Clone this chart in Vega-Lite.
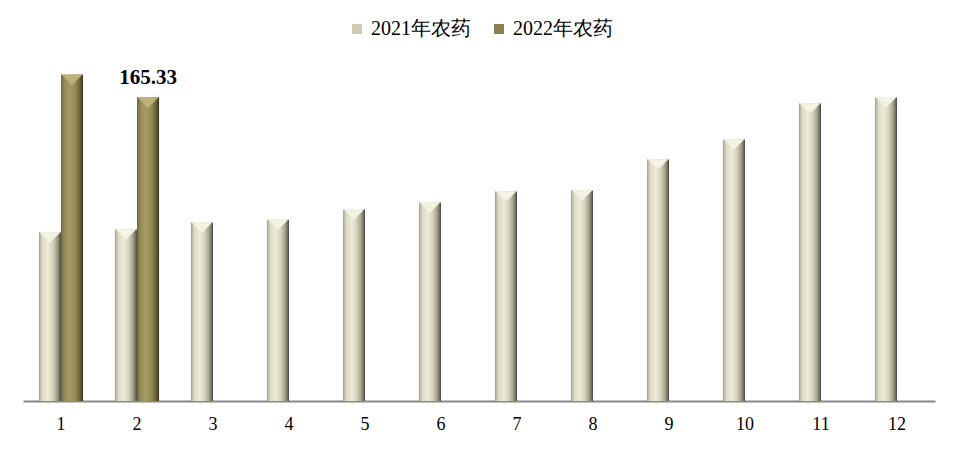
{
  "$schema": "https://vega.github.io/schema/vega-lite/v6.json",
  "width": 912,
  "height": 367,
  "autosize": "none",
  "padding": {"left": 23, "top": 34, "right": 23, "bottom": 49},
  "background": "white",
  "config": {
    "view": {"stroke": null},
    "font": "Liberation Serif"
  },
  "data": {
    "values": [
      {"month": 1, "series": "2021年农药", "value": 91.8},
      {"month": 2, "series": "2021年农药", "value": 93.5},
      {"month": 3, "series": "2021年农药", "value": 97.3},
      {"month": 4, "series": "2021年农药", "value": 98.8},
      {"month": 5, "series": "2021年农药", "value": 104.4},
      {"month": 6, "series": "2021年农药", "value": 108.2},
      {"month": 7, "series": "2021年农药", "value": 114.2},
      {"month": 8, "series": "2021年农药", "value": 114.7},
      {"month": 9, "series": "2021年农药", "value": 131.6},
      {"month": 10, "series": "2021年农药", "value": 142.5},
      {"month": 11, "series": "2021年农药", "value": 162.1},
      {"month": 12, "series": "2021年农药", "value": 165.4},
      {"month": 1, "series": "2022年农药", "value": 177.8},
      {"month": 2, "series": "2022年农药", "value": 165.33}
    ]
  },
  "encoding": {
    "x": {
      "field": "month",
      "type": "ordinal",
      "title": null,
      "scale": {"paddingInner": 0.42, "paddingOuter": 0.21},
      "axis": {
        "labelAngle": 0,
        "labelFont": "Liberation Serif",
        "labelFontSize": 18,
        "labelColor": "#000000",
        "labelPadding": 14,
        "ticks": false,
        "domainColor": "#888888",
        "domainWidth": 2
      }
    },
    "xOffset": {
      "field": "series",
      "type": "nominal",
      "scale": {"domain": ["2021年农药", "2022年农药"], "paddingInner": 0}
    },
    "y": {
      "field": "value",
      "type": "quantitative",
      "scale": {"domain": [0, 200]},
      "axis": null
    }
  },
  "layer": [
    {
      "mark": {"type": "bar"},
      "encoding": {
        "color": {
          "field": "series",
          "type": "nominal",
          "scale": {"domain": ["2021年农药", "2022年农药"], "range": ["#cfccb3", "#8a8050"]},
          "legend": {
            "title": null,
            "orient": "none",
            "direction": "horizontal",
            "legendX": 324,
            "legendY": -15,
            "symbolType": "square",
            "symbolSize": 100,
            "symbolStrokeWidth": 0,
            "labelFont": "Liberation Serif",
            "labelFontSize": 20,
            "labelColor": "#000000",
            "columnPadding": 18,
            "labelOffset": 4
          }
        }
      }
    },
    {
      "transform": [{"filter": "datum.series === '2021年农药'"}],
      "mark": {
        "type": "bar",
        "fill": {
          "gradient": "linear",
          "x1": 0, "y1": 0, "x2": 1, "y2": 0,
          "stops": [
            {"offset": 0, "color": "#a4a290"},
            {"offset": 0.15, "color": "#dcd9c4"},
            {"offset": 0.4, "color": "#eeebd6"},
            {"offset": 0.65, "color": "#d2cfb8"},
            {"offset": 0.85, "color": "#9a9884"},
            {"offset": 1, "color": "#4a493f"}
          ]
        }
      }
    },
    {
      "transform": [{"filter": "datum.series === '2022年农药'"}],
      "mark": {
        "type": "bar",
        "fill": {
          "gradient": "linear",
          "x1": 0, "y1": 0, "x2": 1, "y2": 0,
          "stops": [
            {"offset": 0, "color": "#6e6840"},
            {"offset": 0.15, "color": "#948a56"},
            {"offset": 0.4, "color": "#a79d64"},
            {"offset": 0.65, "color": "#938952"},
            {"offset": 0.85, "color": "#6b6438"},
            {"offset": 1, "color": "#38341f"}
          ]
        }
      }
    },
    {
      "transform": [{"filter": "datum.series === '2021年农药'"}],
      "mark": {
        "type": "point",
        "shape": "M-1,-0.5L1,-0.5L0,0.5Z",
        "size": 440,
        "filled": true,
        "opacity": 1,
        "fill": "#f4f2e2",
        "strokeWidth": 0,
        "yOffset": 5
      }
    },
    {
      "transform": [{"filter": "datum.series === '2022年农药'"}],
      "mark": {
        "type": "point",
        "shape": "M-1,-0.5L1,-0.5L0,0.5Z",
        "size": 440,
        "filled": true,
        "opacity": 1,
        "fill": "#bdb27a",
        "strokeWidth": 0,
        "yOffset": 5
      }
    },
    {
      "transform": [{"filter": "datum.series === '2022年农药' && datum.month === 2"}],
      "mark": {
        "type": "text",
        "font": "Liberation Serif",
        "fontSize": 21,
        "fontWeight": "bold",
        "color": "#000000",
        "baseline": "alphabetic",
        "dy": -14
      },
      "encoding": {
        "text": {"field": "value", "type": "quantitative", "format": ".2f"}
      }
    }
  ]
}
